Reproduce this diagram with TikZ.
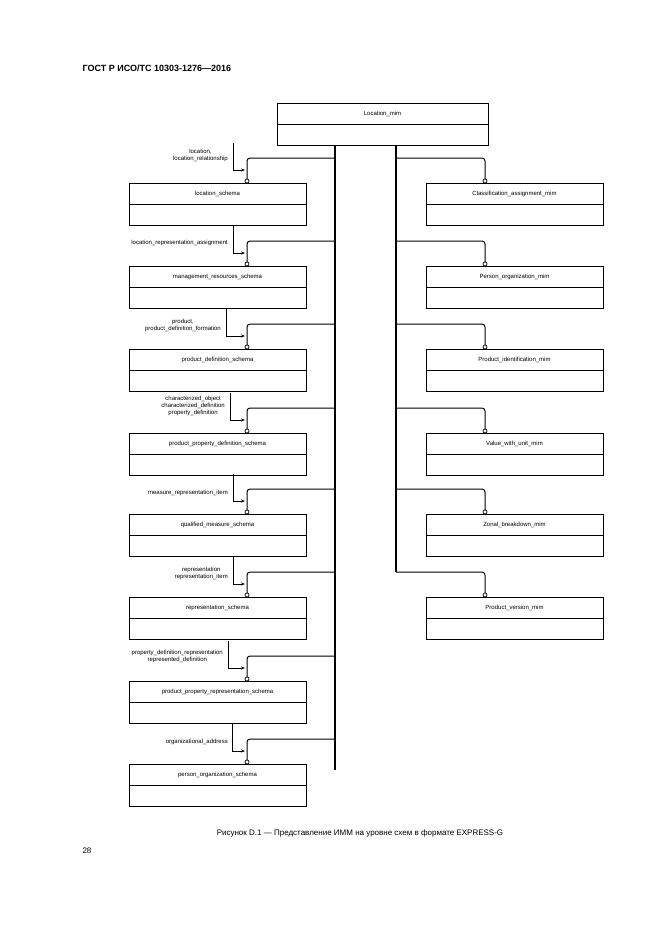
\documentclass[tikz,border=0pt]{standalone}
\usepackage{fontspec}
\setmainfont{Liberation Sans}
\usetikzlibrary{arrows.meta}
\begin{document}
\begin{tikzpicture}[x=1pt,y=-1pt,
  box/.style={draw,line width=1pt},
  conn/.style={line width=1pt,rounded corners=3pt},
  lab/.style={font=\fontsize{6}{7}\selectfont,align=center,anchor=east,inner sep=0pt},
  mk/.style={line width=0.6pt,-{Stealth[length=4pt,width=3pt]}},
  circ/.style={draw,fill=white,line width=0.7pt,circle,inner sep=0pt,minimum size=4pt},
  ttl/.style={font=\fontsize{6}{7}\selectfont,inner sep=0pt}]
\path[use as bounding box] (0,0) rectangle (661,935);
\node[anchor=west,font=\bfseries\fontsize{9}{10}\selectfont] (hdr) at (79,68) {ГОСТ Р ИСО/ТС 10303-1276—2016};
\node[font=\fontsize{8}{9}\selectfont] (cap) at (360,833) {Рисунок D.1 — Представление ИММ на уровне схем в формате EXPRESS-G};
\node[anchor=west,font=\fontsize{8}{9}\selectfont] (pg) at (79,851) {28};
% top box
\draw[box] (277,103) rectangle (488,145); \draw[line width=1pt] (277,124)--(488,124);
\node[ttl] (top) at (382.5,113.5) {Location\_mim};
\coordinate (tl) at (335,145); \coordinate (tr) at (396,145);
\draw[line width=1.4pt] (tl)--(335,770);
\draw[line width=1.4pt] (tr)--(396,572);
% left boxes
\foreach \t/\n/\mx/\lt in {183/location\_schema/233/1,266/management\_resources\_schema/233/2,349/product\_definition\_schema/226/3,433/product\_property\_definition\_schema/230/4,514/qualified\_measure\_schema/233/5,597/representation\_schema/233/6,681/product\_property\_representation\_schema/228/7,764/person\_organization\_schema/232/8}{
  \draw[box] (129,\t) rectangle (306,\t+42); \draw[line width=1pt] (129,\t+21)--(306,\t+21);
  \node[ttl] (L\lt) at (217.5,\t+10.5) {\n};
  \draw[conn] (335,\t-25) -- (247,\t-25) -- (247,\t-2);
  \node[circ] (cl\lt) at (247,\t-2) {};
  \draw[mk] (\mx,\t-40) -- (\mx,\t-13) -- (245,\t-13);
}
% right boxes
\foreach \t/\n/\lt in {183/Classification\_assignment\_mim/1,266/Person\_organization\_mim/2,349/Product\_identification\_mim/3,433/Value\_with\_unit\_mim/4,514/Zonal\_breakdown\_mim/5,597/Product\_version\_mim/6}{
  \draw[box] (426,\t) rectangle (603,\t+42); \draw[line width=1pt] (426,\t+21)--(603,\t+21);
  \node[ttl] (R\lt) at (514.5,\t+10.5) {\n};
  \draw[conn] (396,\t-25) -- (485,\t-25) -- (485,\t-2);
  \node[circ] (cr\lt) at (485,\t-2) {};
}
% labels
\node[lab] (a1) at (228,155) {location,\\location\_relationship};
\node[lab] (a2) at (228,243) {location\_representation\_assignment};
\node[lab] (a3) at (221,325) {product,\\product\_definition\_formation};
\node[lab] (a4) at (225,406) {characterized\_object\\characterized\_definition\\property\_definition};
\node[lab] (a5) at (228,493) {measure\_representation\_item};
\node[lab] (a6) at (228,573) {representation\\representation\_item};
\node[lab] (a7) at (223,656) {property\_definition\_representation\\represented\_definition};
\node[lab] (a8) at (228,742) {organizational\_address};
\end{tikzpicture}
\end{document}
